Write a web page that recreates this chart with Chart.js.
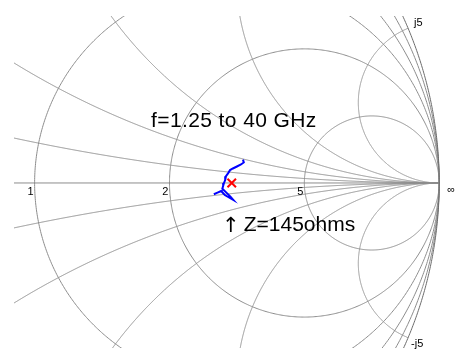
<!DOCTYPE html>
<html>
<head>
<meta charset="utf-8">
<script src="https://cdn.jsdelivr.net/npm/chart.js@4"></script>
<style>
  html, body { margin: 0; padding: 0; background: #ffffff; }
  #wrap { width: 459px; height: 356px; }
</style>
</head>
<body>
<div id="wrap"><canvas id="smith" width="459" height="356"></canvas></div>
<script>
// Measured reflection coefficient (Z0 = 50 ohm), f = 1.25 to 40 GHz
const gammaRe = [0.515, 0.517, 0.510, 0.500, 0.490, 0.483, 0.478, 0.473, 0.471, 0.468,
                 0.466, 0.464, 0.474, 0.484, 0.491, 0.470, 0.461, 0.452, 0.443];
const gammaIm = [0.058, 0.051, 0.046, 0.041, 0.036, 0.032, 0.024, 0.017, 0.007, 0.000,
                 -0.007, -0.014, -0.024, -0.034, -0.042, -0.030, -0.020, -0.024, -0.028];

// Target impedance marker
const z0 = 50;
const targetZ = 145;

// Smith grid: normalised resistance circles and reactance arcs
const resistanceValues = [0.2, 0.5, 1, 2, 5];
const reactanceValues = [0.2, 0.5, 1, 2, 5];

// Grid labels
const realLabelValues = [1, 2, 5];
const realLabels = ['1', '2', '5'];
const imagLabelValues = [5, -5];
const imagLabels = ['j5', '-j5'];
const infinityLabel = '\u221E';

const titleText = 'f=1.25 to 40 GHz';
const markerText = 'Z=145ohms';

// z -> gamma
function gammaOf(r, x) {
  const den = (r + 1) * (r + 1) + x * x;
  return [(r * r - 1 + x * x) / den, (2 * x) / den];
}

const tracePoints = gammaRe.map((v, i) => ({ x: v, y: gammaIm[i] }));
const gT = (targetZ - z0) / (targetZ + z0);
const markerPoints = [{ x: gT, y: 0 }];

const GRID = '#8c8c8c';
const FONT = '"Liberation Sans", Arial, Helvetica, sans-serif';

const smithGrid = {
  id: 'smithGrid',
  beforeDatasetsDraw(chart) {
    const { ctx, chartArea: a, scales: { x: xs, y: ys } } = chart;
    const P = (g) => [xs.getPixelForValue(g[0]), ys.getPixelForValue(g[1])];
    const poly = (pts, color, w) => {
      ctx.beginPath();
      pts.forEach((p, i) => { const q = P(p); i ? ctx.lineTo(q[0], q[1]) : ctx.moveTo(q[0], q[1]); });
      ctx.strokeStyle = color; ctx.lineWidth = w; ctx.stroke();
    };
    ctx.save();
    ctx.beginPath(); ctx.rect(a.left, a.top, a.right - a.left, a.bottom - a.top); ctx.clip();
    ctx.lineJoin = 'round';

    // constant-resistance circles
    resistanceValues.forEach((r) => {
      const c = r / (1 + r), rho = 1 / (1 + r);
      const pts = [];
      const N = 720;
      for (let i = 0; i <= N; i++) {
        const t = 2 * Math.PI * i / N;
        pts.push([c + rho * Math.cos(t), rho * Math.sin(t)]);
      }
      poly(pts, GRID, 1);
    });

    // constant-reactance arcs, from r = 0 on the rim to r = infinity
    reactanceValues.forEach((xv) => {
      [xv, -xv].forEach((x) => {
        const cy = 1 / x, rad = Math.abs(1 / x);
        const g0 = gammaOf(0, x);
        const a0 = Math.atan2(g0[1] - cy, g0[0] - 1);
        const a1 = x > 0 ? 1.5 * Math.PI : -1.5 * Math.PI;
        let s = a0;
        if (x > 0) { while (s > a1) s -= 2 * Math.PI; while (s < a1 - 2 * Math.PI) s += 2 * Math.PI; }
        else { while (s < a1) s += 2 * Math.PI; while (s > a1 + 2 * Math.PI) s -= 2 * Math.PI; }
        const pts = [];
        const N = 1500;
        for (let i = 0; i <= N; i++) {
          const t = s + (a1 - s) * i / N;
          pts.push([1 + rad * Math.cos(t), cy + rad * Math.sin(t)]);
        }
        poly(pts, GRID, 1);
      });
    });

    // real axis
    poly([[-1, 0], [1, 0]], GRID, 1);

    // outer |gamma| = 1 circle
    const uc = [];
    for (let i = 0; i <= 1440; i++) { const t = 2 * Math.PI * i / 1440; uc.push([Math.cos(t), Math.sin(t)]); }
    poly(uc, '#6a6a6a', 1);
    ctx.restore();
  },
  afterDatasetsDraw(chart) {
    const { ctx, scales: { x: xs, y: ys } } = chart;
    ctx.save();
    ctx.fillStyle = '#000000';
    ctx.font = '11px ' + FONT;
    // resistance labels sit below-left of the axis crossing
    realLabelValues.forEach((r, i) => {
      const g = gammaOf(r, 0);
      ctx.textAlign = 'right'; ctx.textBaseline = 'top';
      ctx.fillText(realLabels[i], xs.getPixelForValue(g[0]) - 1, ys.getPixelForValue(0) + 3);
    });
    imagLabelValues.forEach((x, i) => {
      const g = gammaOf(0, x);
      const px = xs.getPixelForValue(g[0]), py = ys.getPixelForValue(g[1]);
      ctx.textAlign = 'left';
      if (x > 0) { ctx.textBaseline = 'bottom'; ctx.fillText(imagLabels[i], px + 6, py); }
      else { ctx.textBaseline = 'top'; ctx.fillText(imagLabels[i], px + 3, py + 1); }
    });
    ctx.textAlign = 'left'; ctx.textBaseline = 'top';
    ctx.fillText(infinityLabel, xs.getPixelForValue(1) + 8, ys.getPixelForValue(0) + 1);

    // annotations
    const mx = xs.getPixelForValue(gT), my = ys.getPixelForValue(0);
    ctx.font = '21px ' + FONT;
    ctx.textBaseline = 'alphabetic';
    ctx.textAlign = 'left';
    ctx.letterSpacing = '0.4px';
    ctx.fillText(titleText, 151, 127);
    ctx.letterSpacing = '0px';
    ctx.font = '21px "DejaVu Sans", sans-serif';
    ctx.textAlign = 'center';
    ctx.fillText('\u2191', mx - 1, my + 49);
    ctx.font = '21px ' + FONT;
    ctx.textAlign = 'left';
    ctx.fillText(markerText, mx + 12, my + 48);
    ctx.restore();
  }
};

new Chart(document.getElementById('smith'), {
  type: 'scatter',
  data: {
    datasets: [
      {
        label: 'Z(f)',
        data: tracePoints,
        showLine: true,
        borderColor: '#0000ff',
        borderWidth: 2,
        pointRadius: 0,
        tension: 0
      },
      {
        label: 'Z target',
        data: markerPoints,
        showLine: false,
        pointStyle: 'crossRot',
        pointRadius: 6,
        borderColor: '#ff0000',
        borderWidth: 2
      }
    ]
  },
  options: {
    responsive: false,
    animation: false,
    events: [],
    layout: { padding: { left: 14, top: 16, right: 0, bottom: 0 } },
    plugins: { legend: { display: false }, tooltip: { enabled: false } },
    scales: {
      x: { type: 'linear', display: false, min: -21 / 412, max: -21 / 412 + 445 / 412 },
      y: { type: 'linear', display: false, min: -169 / 412, max: 171 / 412 }
    }
  },
  plugins: [smithGrid]
});
</script>
</body>
</html>
